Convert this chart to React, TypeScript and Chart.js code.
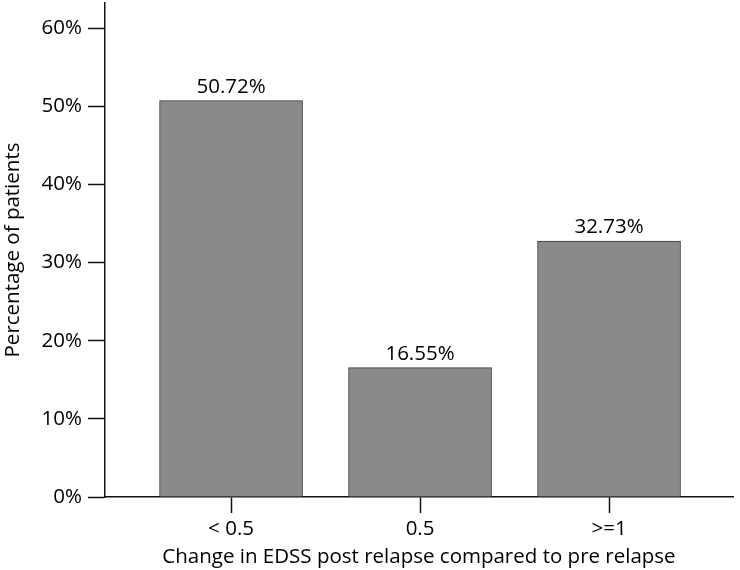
import React, { useEffect, useRef } from "react";
import { Chart, registerables } from "chart.js";

Chart.register(...registerables);

const categories = ["< 0.5", "0.5", ">=1"];
const percentages = [50.72, 16.55, 32.73];
const yTickValues = [0, 10, 20, 30, 40, 50, 60];
const xTitle = "Change in EDSS post relapse compared to pre relapse";
const yTitle = "Percentage of patients";

const FONT = "'Open Sans', 'Noto Sans', sans-serif";
const FS = 20.5;

const valueLabelPlugin = {
  id: "valueLabels",
  afterDatasetsDraw(chart: any) {
    const ctx = chart.ctx;
    const meta = chart.getDatasetMeta(0);
    ctx.save();
    ctx.font = `${FS}px ${FONT}`;
    ctx.fillStyle = "#000";
    ctx.textAlign = "center";
    ctx.textBaseline = "alphabetic";
    meta.data.forEach((bar: any, i: number) => {
      ctx.fillText(percentages[i].toFixed(2) + "%", bar.x, bar.y - 8);
    });
    ctx.restore();
  },
};

export default function App() {
  const ref = useRef<HTMLCanvasElement>(null);
  useEffect(() => {
    if (!ref.current) return;
    const chart = new Chart(ref.current, {
      type: "bar",
      data: {
        datasets: [
          {
            data: percentages.map((v, i) => ({ x: i + 1, y: v })),
            backgroundColor: "#8a8a8a",
            borderColor: "#3a3a3a",
            borderWidth: 1,
            barThickness: 143,
          },
        ],
      },
      plugins: [valueLabelPlugin],
      options: {
        responsive: false,
        animation: false,
        layout: { padding: { left: 0, right: 7, top: 3, bottom: 0 } },
        plugins: { legend: { display: false }, tooltip: { enabled: false } },
        scales: {
          x: {
            type: "linear",
            min: 0.333,
            max: 3.656,
            offset: false,
            afterBuildTicks: (s: any) => {
              s.ticks = categories.map((_, i) => ({ value: i + 1 }));
            },
            afterFit: (s: any) => {
              s.height = 73;
              s.paddingLeft = 0;
              s.paddingRight = 0;
            },
            ticks: {
              autoSkip: false,
              maxRotation: 0,
              padding: 4,
              color: "#000",
              font: { family: FONT, size: FS },
              callback: (v: any) => categories[Math.round(Number(v)) - 1] ?? "",
            },
            grid: {
              offset: false,
              drawOnChartArea: false,
              drawTicks: true,
              tickLength: 16,
              tickWidth: 1.5,
              tickColor: "#111",
            },
            border: { display: true, color: "#111", width: 1.5 },
            title: {
              display: true,
              text: xTitle,
              color: "#000",
              font: { family: FONT, size: FS },
              padding: { top: 0, bottom: 1 },
            },
          },
          y: {
            type: "linear",
            min: 0,
            max: 63.2,
            afterBuildTicks: (s: any) => {
              s.ticks = yTickValues.map((v) => ({ value: v }));
            },
            afterFit: (s: any) => {
              s.width = 105;
              s.paddingTop = 0;
              s.paddingBottom = 0;
            },
            ticks: {
              padding: 6,
              color: "#000",
              font: { family: FONT, size: FS },
              callback: (v: any) => v + "%",
            },
            grid: {
              drawOnChartArea: false,
              drawTicks: true,
              tickLength: 17,
              tickWidth: 1.5,
              tickColor: "#111",
            },
            border: { display: true, color: "#111", width: 1.5 },
            title: {
              display: true,
              text: yTitle,
              color: "#000",
              font: { family: FONT, size: FS },
              padding: { top: 1, bottom: 0 },
            },
          },
        },
      },
    } as any);
    return () => chart.destroy();
  }, []);
  return (
    <div style={{ position: "fixed", left: 0, top: 0, width: 740, height: 570, background: "#fff" }}>
      <canvas ref={ref} width={740} height={570} />
    </div>
  );
}
